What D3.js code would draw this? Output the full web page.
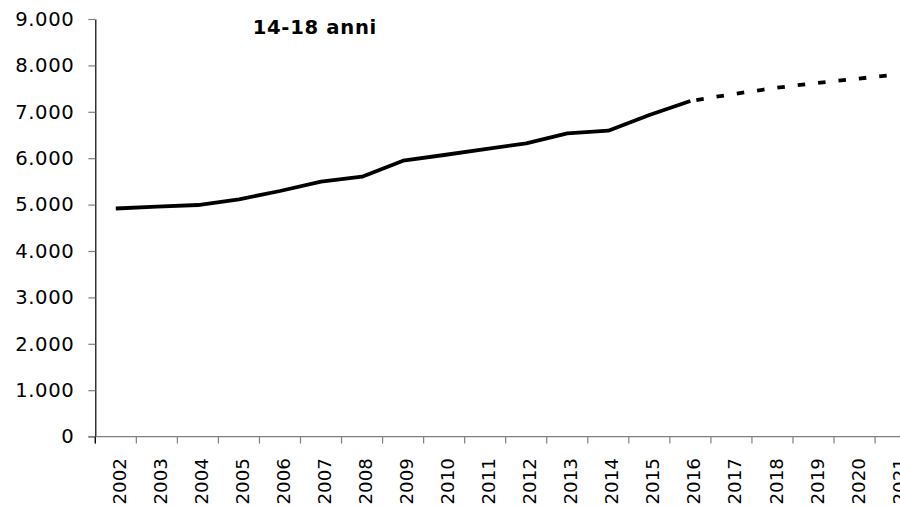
<!DOCTYPE html>
<html>
<head>
<meta charset="utf-8">
<script src="https://cdn.jsdelivr.net/npm/d3@7/dist/d3.min.js"></script>
<style>
  html, body { margin: 0; padding: 0; background: #fff; }
  svg { display: block; }
</style>
</head>
<body>
<svg id="chart" width="900" height="506"></svg>
<script>
const title = "14-18 anni";
const years = ["2002","2003","2004","2005","2006","2007","2008","2009","2010","2011",
               "2012","2013","2014","2015","2016","2017","2018","2019","2020","2021"];
const actualYears = ["2002","2003","2004","2005","2006","2007","2008","2009","2010","2011",
                     "2012","2013","2014","2015","2016"];
const actualValues = [4916, 4955, 4991, 5114, 5293, 5494, 5601, 5946, 6069, 6198,
                      6321, 6537, 6593, 6931, 7233];
const projYears = ["2016","2017","2018","2019","2020","2021"];
const projValues = [7233, 7377, 7506, 7614, 7707, 7800];
const yTicks = [0, 1000, 2000, 3000, 4000, 5000, 6000, 7000, 8000, 9000];

const svg = d3.select("#chart");
const mLeft = 95.3, bandW = 41.04, mTop = 19, mBottom = 436.6;

const x = d3.scaleBand().domain(years).range([mLeft, mLeft + bandW * years.length]).padding(0);
const y = d3.scaleLinear().domain([0, 9000]).range([mBottom, mTop]);

const it = d3.formatLocale({decimal: ",", thousands: ".", grouping: [3], currency: ["", ""]});
const fmt = it.format(",");

// Y axis
const yAxis = svg.append("g")
  .attr("transform", `translate(${mLeft},0)`)
  .call(d3.axisLeft(y).tickValues(yTicks).tickFormat(fmt).tickSize(7).tickPadding(14).tickSizeOuter(0));
yAxis.select(".domain").attr("stroke", "#000").attr("stroke-width", 1.2);
yAxis.selectAll(".tick line").attr("stroke", "#808080").attr("stroke-width", 1.2);
yAxis.selectAll(".tick text")
  .attr("font-family", "'DejaVu Sans', sans-serif")
  .attr("font-size", "19.6px")
  .attr("letter-spacing", "0.6px")
  .attr("fill", "#000");

// X axis line and boundary ticks
const xg = svg.append("g");
xg.append("line")
  .attr("x1", mLeft - 7).attr("x2", 900)
  .attr("y1", mBottom).attr("y2", mBottom)
  .attr("stroke", "#808080").attr("stroke-width", 1.3);
const bounds = years.map(d => x(d)).concat([x(years[years.length - 1]) + x.bandwidth()]);
xg.selectAll("line.tk").data(bounds).join("line")
  .attr("class", "tk")
  .attr("x1", d => d).attr("x2", d => d)
  .attr("y1", mBottom).attr("y2", mBottom + 7)
  .attr("stroke", "#808080").attr("stroke-width", 1.2);
svg.append("line")
  .attr("x1", mLeft).attr("x2", mLeft)
  .attr("y1", mBottom).attr("y2", mBottom + 7)
  .attr("stroke", "#000").attr("stroke-width", 1.2);

xg.selectAll("text.lbl").data(years).join("text")
  .attr("class", "lbl")
  .attr("transform", d => `translate(${x(d) + x.bandwidth() / 2},458) rotate(-90)`)
  .attr("text-anchor", "end")
  .attr("dy", "0.55em")
  .attr("font-family", "'DejaVu Sans', sans-serif")
  .attr("font-size", "18.3px")
  .attr("fill", "#000")
  .text(d => d);

// Lines
const line = d3.line()
  .x(d => x(d[0]) + x.bandwidth() / 2)
  .y(d => y(d[1]));

svg.append("path")
  .datum(actualYears.map((d, i) => [d, actualValues[i]]))
  .attr("d", line)
  .attr("fill", "none")
  .attr("stroke", "#000")
  .attr("stroke-width", 3.8)
  .attr("stroke-linejoin", "round");

svg.append("path")
  .datum(projYears.map((d, i) => [d, projValues[i]]))
  .attr("d", line)
  .attr("fill", "none")
  .attr("stroke", "#000")
  .attr("stroke-width", 3.8)
  .attr("stroke-dasharray", "7.5,13")
  .attr("stroke-dashoffset", "-6");

// Title
svg.append("text")
  .attr("x", 252.7).attr("y", 34.3)
  .attr("font-family", "'DejaVu Sans', sans-serif")
  .attr("font-weight", "bold")
  .attr("font-size", "19.6px")
  .attr("letter-spacing", "0.7px")
  .attr("fill", "#000")
  .text(title);
</script>
</body>
</html>
